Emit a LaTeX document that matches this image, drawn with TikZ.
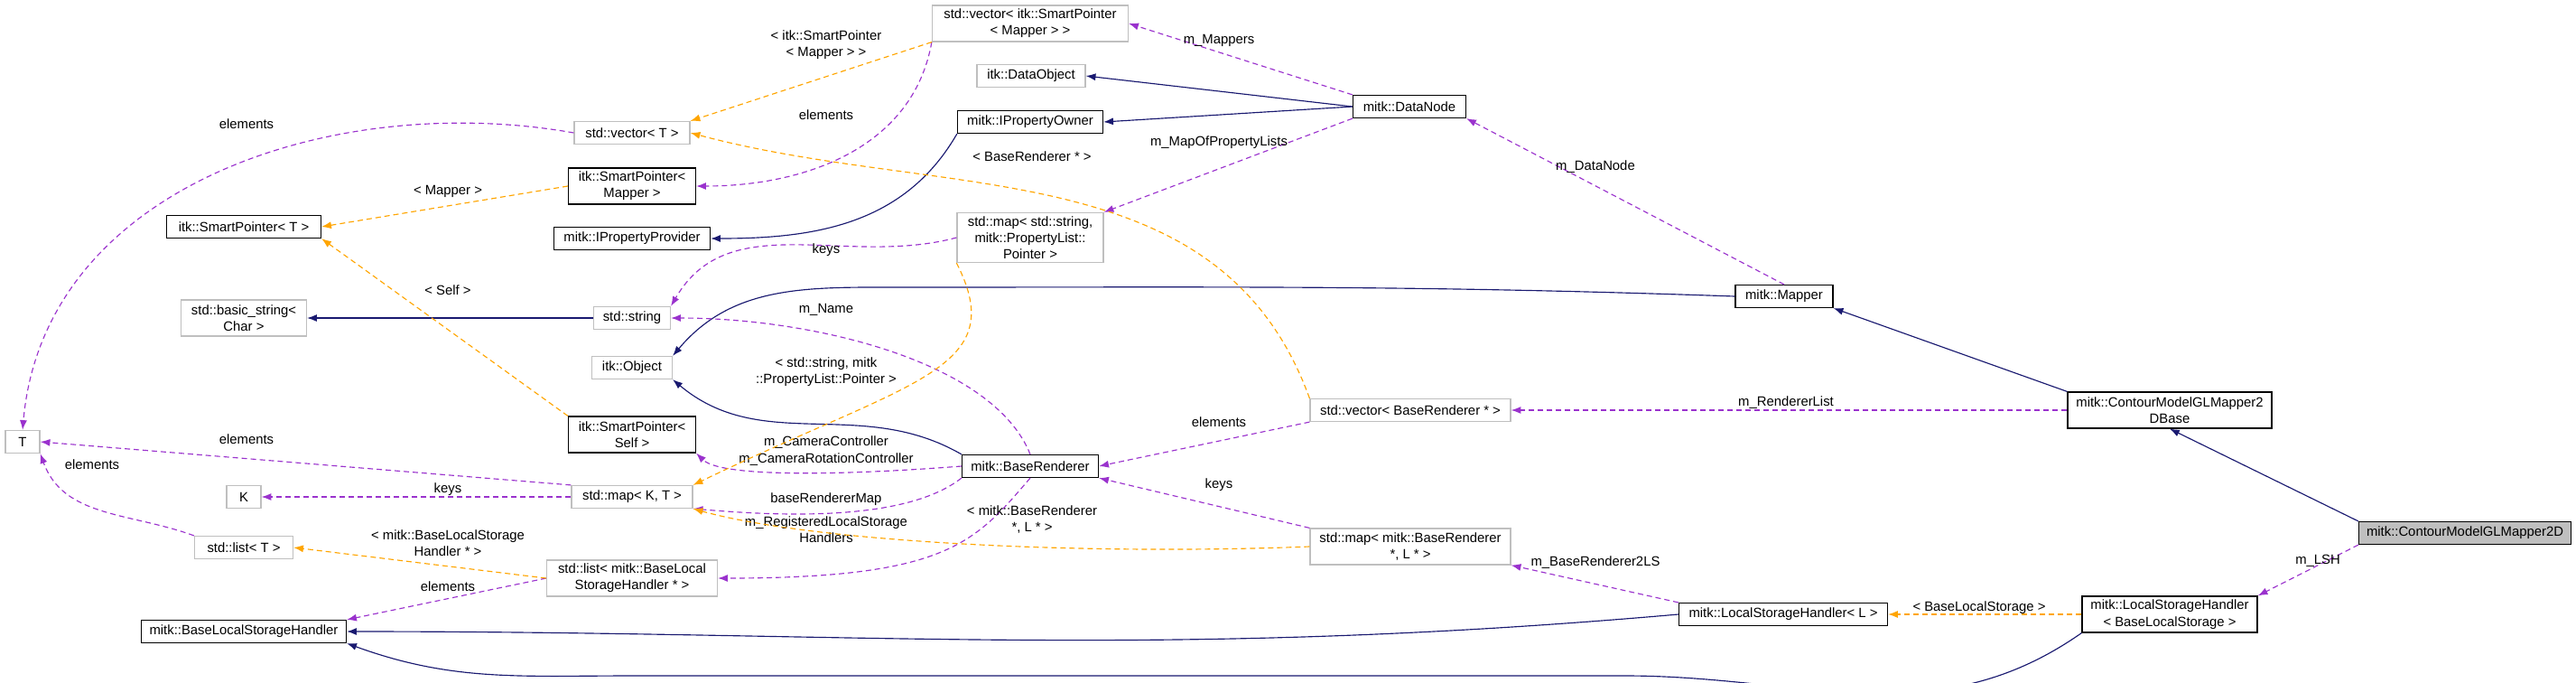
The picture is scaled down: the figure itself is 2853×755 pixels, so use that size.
\documentclass[tikz,border=0pt]{standalone}
\usepackage{fontspec}
\setmainfont{Liberation Sans}
\usetikzlibrary{arrows.meta,positioning}
\definecolor{inherit}{RGB}{25,25,112}
\definecolor{usage}{RGB}{154,50,205}
\definecolor{templ}{RGB}{255,165,0}
\newdimen\pxu \pxu=0.35pt
\tikzset{
  cls/.style={draw=black, line width=0.42pt, fill=white, align=center, inner sep=0.5pt,
    font=\fontsize{5.2}{6.4}\selectfont},
  ext/.style={cls, draw=black!25},
  focus/.style={cls, fill=black!25},
  lbl/.style={align=center, inner sep=0.5pt, font=\fontsize{5.2}{6.4}\selectfont},
  isA/.style={-{Latex[length=3.8pt,width=2.8pt]}, draw=inherit, line width=0.4pt},
  uses/.style={-{Latex[length=3.8pt,width=2.8pt]}, draw=usage, line width=0.4pt, dash pattern=on 2.1pt off 1.4pt},
  tmpl/.style={-{Latex[length=3.8pt,width=2.8pt]}, draw=templ, line width=0.4pt, dash pattern=on 2.1pt off 1.4pt}
}
\begin{document}
\begin{tikzpicture}[x=\pxu,y=-\pxu]
  \useasboundingbox (0,0) rectangle (2853,755);
  % classes
  \node[ext,minimum width=217\pxu,minimum height=40\pxu] (vspm) at (1141,26) {std::vector\textless{} itk::SmartPointer\\\textless{} Mapper \textgreater{} \textgreater{}};
  \node[ext,minimum width=120\pxu,minimum height=25\pxu] (dobj) at (1142,84) {itk::DataObject};
  \node[cls,minimum width=161\pxu,minimum height=25\pxu] (pown) at (1141,135) {mitk::IPropertyOwner};
  \node[ext,minimum width=128\pxu,minimum height=25\pxu] (vecT) at (700,147) {std::vector\textless{} T \textgreater{}};
  \node[cls,minimum width=141\pxu,minimum height=40\pxu] (spmap) at (700,206) {itk::SmartPointer\textless{}\\Mapper \textgreater{}};
  \node[cls,minimum width=171\pxu,minimum height=25\pxu] (spT) at (270,251) {itk::SmartPointer\textless{} T \textgreater{}};
  \node[cls,minimum width=173\pxu,minimum height=25\pxu] (pprov) at (700,264) {mitk::IPropertyProvider};
  \node[ext,minimum width=162\pxu,minimum height=55\pxu] (mapS) at (1141,263) {std::map\textless{} std::string,\\mitk::PropertyList::\\Pointer \textgreater{}};
  \node[ext,minimum width=139\pxu,minimum height=40\pxu] (bstr) at (270,352) {std::basic\_string\textless{}\\Char \textgreater{}};
  \node[ext,minimum width=85\pxu,minimum height=25\pxu] (str) at (700,352) {std::string};
  \node[ext,minimum width=89\pxu,minimum height=25\pxu] (iobj) at (700,407) {itk::Object};
  \node[cls,minimum width=141\pxu,minimum height=40\pxu] (spself) at (700,481) {itk::SmartPointer\textless{}\\Self \textgreater{}};
  \node[cls,minimum width=151\pxu,minimum height=25\pxu] (brend) at (1141,516) {mitk::BaseRenderer};
  \node[ext,minimum width=38\pxu,minimum height=25\pxu] (T) at (25,489) {T};
  \node[ext,minimum width=38\pxu,minimum height=25\pxu] (K) at (270,550) {K};
  \node[ext,minimum width=134\pxu,minimum height=25\pxu] (mapKT) at (700,550) {std::map\textless{} K, T \textgreater{}};
  \node[ext,minimum width=109\pxu,minimum height=25\pxu] (listT) at (270,606) {std::list\textless{} T \textgreater{}};
  \node[ext,minimum width=189\pxu,minimum height=40\pxu] (listB) at (700,640) {std::list\textless{} mitk::BaseLocal\\StorageHandler * \textgreater{}};
  \node[cls,minimum width=227\pxu,minimum height=25\pxu] (blsh) at (270,699) {mitk::BaseLocalStorageHandler};
  \node[cls,minimum width=125\pxu,minimum height=25\pxu] (dnode) at (1561,118) {mitk::DataNode};
  \node[cls,minimum width=108\pxu,minimum height=25\pxu] (mapper) at (1976,328) {mitk::Mapper};
  \node[ext,minimum width=222\pxu,minimum height=25\pxu] (vbr) at (1562,454) {std::vector\textless{} BaseRenderer * \textgreater{}};
  \node[cls,minimum width=226\pxu,minimum height=40\pxu] (base2d) at (2403,454) {mitk::ContourModelGLMapper2\\DBase};
  \node[focus,minimum width=235\pxu,minimum height=25\pxu] (m2d) at (2730,590) {mitk::ContourModelGLMapper2D};
  \node[ext,minimum width=222\pxu,minimum height=40\pxu] (mapBR) at (1562,605) {std::map\textless{} mitk::BaseRenderer\\*, L * \textgreater{}};
  \node[cls,minimum width=231\pxu,minimum height=25\pxu] (lshL) at (1975,680) {mitk::LocalStorageHandler\textless{} L \textgreater{}};
  \node[cls,minimum width=194\pxu,minimum height=40\pxu] (lshB) at (2403,680) {mitk::LocalStorageHandler\\\textless{} BaseLocalStorage \textgreater{}};
  % inheritance
  \draw[isA] (dnode.west) -- (dobj.east);
  \draw[isA] (dnode.180) -- (pown.east);
  \draw[isA] (pown.south west) to[out=240,in=0] (pprov.east);
  \draw[isA] (mapper.west) to[out=178,in=0] (1000,318) to[out=180,in=50] (iobj.north east);
  \draw[isA] (str.west) -- (bstr.east);
  \draw[isA] (brend.north west) to[out=150,in=-40] (iobj.south east);
  \draw[isA] (base2d.north west) -- (mapper.south east);
  \draw[isA] (m2d.north west) -- (base2d.south);
  \draw[isA] (lshL.west) to[out=185,in=0] (blsh.east);
  \draw[isA] (lshB.south west) to[out=215,in=0] (1800,748) -- (700,748) to[out=180,in=-20] (blsh.south east);
  % usage
  \draw[uses] (dnode.north west) -- (vspm.east);
  \node[lbl] at (1350,45) {m\_Mappers};
  \draw[uses] (vspm.south west) to[out=260,in=0] (spmap.east);
  \node[lbl] at (915,127) {elements};
  \draw[uses] (vecT.west) to[out=170,in=85] (T.north);
  \node[lbl] at (273,137) {elements};
  \draw[uses] (dnode.south west) -- (mapS.north east);
  \node[lbl] at (1350,158) {m\_MapOfPropertyLists};
  \draw[uses] (mapS.west) to[out=195,in=60] (str.north east);
  \node[lbl] at (915,277) {keys};
  \draw[uses] (brend.north) .. controls (1100,400) and (900,352) .. (str.east);
  \node[lbl] at (915,343) {m\_Name};
  \draw[uses] (mapper.north) -- (dnode.south east);
  \node[lbl] at (1767,185) {m\_DataNode};
  \draw[uses] (brend.west) .. controls (950,525) and (800,530) .. (spself.south east);
  \node[lbl] at (915,499) {m\_CameraController\\m\_CameraRotationController};
  \draw[uses] (mapKT.north west) -- (T.east);
  \node[lbl] at (273,486) {elements};
  \draw[uses] (mapKT.west) -- (K.east);
  \node[lbl] at (496,542) {keys};
  \draw[uses] (brend.south west) .. controls (1000,580) and (850,570) .. (mapKT.south east);
  \node[lbl] at (915,553) {baseRendererMap};
  \draw[uses] (brend.south) .. controls (1080,600) and (1050,640) .. (listB.east);
  \node[lbl] at (915,586) {m\_RegisteredLocalStorage\\Handlers};
  \draw[uses] (listT.north west) to[out=160,in=-70] (T.south east);
  \node[lbl] at (102,514) {elements};
  \draw[uses] (listB.west) -- (blsh.north east);
  \node[lbl] at (496,649) {elements};
  \draw[uses] (vbr.south west) -- (brend.east);
  \node[lbl] at (1350,467) {elements};
  \draw[uses] (base2d.west) -- (vbr.east);
  \node[lbl] at (1978,446) {m\_RendererList};
  \draw[uses] (mapBR.north west) -- (brend.south east);
  \node[lbl] at (1350,537) {keys};
  \draw[uses] (lshL.north west) -- (mapBR.south east);
  \node[lbl] at (1767,623) {m\_BaseRenderer2LS};
  \draw[uses] (m2d.south west) -- (lshB.north east);
  \node[lbl] at (2567,621) {m\_LSH};
  % templates
  \draw[tmpl] (vspm.south west) -- (vecT.north east);
  \node[lbl] at (915,50) {\textless{} itk::SmartPointer\\\textless{} Mapper \textgreater{} \textgreater{}};
  \draw[tmpl] (spmap.west) -- (spT.east);
  \node[lbl] at (496,212) {\textless{} Mapper \textgreater{}};
  \draw[tmpl] (spself.north west) -- (spT.south east);
  \node[lbl] at (496,321) {\textless{} Self \textgreater{}};
  \draw[tmpl] (mapS.south west) .. controls (1120,410) and (1010,420) .. (mapKT.north east);
  \node[lbl] at (915,412) {\textless{} std::string, mitk\\::PropertyList::Pointer \textgreater{}};
  \draw[tmpl] (vbr.north west) to[out=110,in=-15] (vecT.east);
  \node[lbl] at (1143,173) {\textless{} BaseRenderer * \textgreater{}};
  \draw[tmpl] (mapBR.west) .. controls (1200,615) and (900,600) .. (mapKT.south east);
  \node[lbl] at (1143,575) {\textless{} mitk::BaseRenderer\\*, L * \textgreater{}};
  \draw[tmpl] (listB.west) -- (listT.east);
  \node[lbl] at (496,601) {\textless{} mitk::BaseLocalStorage\\Handler * \textgreater{}};
  \draw[tmpl] (lshB.west) -- (lshL.east);
  \node[lbl] at (2192,673) {\textless{} BaseLocalStorage \textgreater{}};
\end{tikzpicture}
\end{document}
